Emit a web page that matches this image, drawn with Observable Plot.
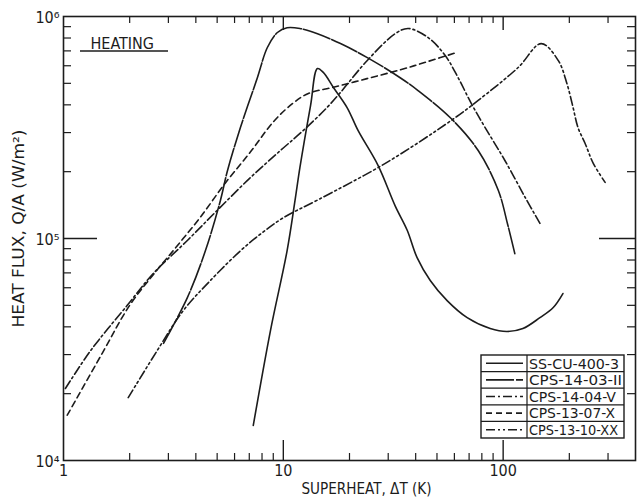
<!DOCTYPE html>
<html><head><meta charset="utf-8">
<script src="https://cdn.jsdelivr.net/npm/d3@7"></script>
<script src="https://cdn.jsdelivr.net/npm/@observablehq/plot@0.6"></script>
<style>
html,body{margin:0;padding:0;background:#fff;}
#chart{position:relative;width:637px;height:502px;overflow:hidden;}
</style></head><body><div id="chart"></div>
<script>
// ---- data ----
const seriesNames = ["SS-CU-400-3", "CPS-14-03-II", "CPS-14-04-V", "CPS-13-07-X", "CPS-13-10-XX"];
const seriesDash  = ["none", "28,2", "9,3,2,3", "6,4", "9,3,2,3,2,3"];

const ssCuX = [7.3, 8.74, 10.4, 11.3, 11.9, 13.3, 14.3, 15.2, 16.9, 19.5, 21.9, 27, 32.3, 36.6, 40.6, 46.6, 55.6, 68.6, 87.3, 104, 123, 147, 169, 187];
const ssCuY = [1.44e4, 3.85e4, 8.8e4, 1.48e5, 2.09e5, 3.97e5, 5.83e5, 5.6e5, 4.79e5, 3.89e5, 3.06e5, 2.13e5, 1.4e5, 1.09e5, 8.2e4, 6.47e4, 5.25e4, 4.4e4, 3.93e4, 3.81e4, 3.93e4, 4.4e4, 4.89e4, 5.65e4];

const cps1403X = [2.85, 3.66, 4.42, 5.17, 5.57, 6.38, 7.62, 8.46, 9.4, 10.4, 11.9, 14.3, 18.2, 24.1, 34, 41, 58, 77, 95, 105, 113];
const cps1403Y = [3.37e4, 5.42e4, 8.8e4, 1.48e5, 2.02e5, 3.16e5, 5.3e5, 7.25e5, 8.47e5, 8.9e5, 8.83e5, 8.37e5, 7.55e5, 6.53e5, 5.3e5, 4.64e5, 3.47e5, 2.49e5, 1.65e5, 1.15e5, 8.55e4];

const cps1404X = [1.02, 1.33, 1.95, 2.56, 3.66, 5.01, 7.08, 9.7, 12.3, 15.8, 18.2, 24.1, 32.3, 37, 45.6, 54.5, 62.4, 71.6, 82.8, 102, 126, 147];
const cps1404Y = [2.11e4, 3.13e4, 5.0e4, 6.95e4, 9.8e4, 1.34e5, 1.88e5, 2.49e5, 3.06e5, 3.89e5, 4.55e5, 6.34e5, 8.37e5, 8.83e5, 8.03e5, 6.67e5, 5.3e5, 4.06e5, 3.16e5, 2.24e5, 1.53e5, 1.17e5];

const cps1307X = [1.04, 1.5, 2.0, 2.6, 3.3, 4.2, 5.45, 7.08, 9.0, 11.0, 13.0, 16.9, 24, 34, 45, 62];
const cps1307Y = [1.6e4, 3.04e4, 5.0e4, 7.0e4, 9.3e4, 1.25e5, 1.78e5, 2.45e5, 3.35e5, 4.05e5, 4.5e5, 4.8e5, 5.25e5, 5.75e5, 6.25e5, 6.9e5];

const cps1310X = [1.97, 2.67, 3.51, 4.66, 6.38, 8.0, 10, 14.5, 29.1, 58, 77, 117, 149, 178, 195, 208, 219, 236, 257, 291];
const cps1310Y = [1.92e4, 3.13e4, 4.74e4, 6.47e4, 8.8e4, 1.06e5, 1.24e5, 1.5e5, 2.18e5, 3.4e5, 4.19e5, 5.89e5, 7.55e5, 6.34e5, 4.99e5, 3.89e5, 3.16e5, 2.68e5, 2.18e5, 1.79e5];

const xTickValues = [1, 10, 100];
const xTickLabels = ["1", "10", "100"];
const yTickValues = [1e4, 1e5, 1e6];
const yTickLabels = ["10\u2074", "10\u2075", "10\u2076"];
const xMinorTicks = [2, 3, 4, 5, 6, 7, 8, 9, 20, 30, 40, 50, 60, 70, 80, 90, 200, 300];
const yMinorTicks = [2e4, 3e4, 4e4, 5e4, 6e4, 7e4, 8e4, 9e4, 2e5, 3e5, 4e5, 5e5, 6e5, 7e5, 8e5, 9e5];
const xMajorInner = [10, 100];
const yMajorInner = [1e5];
const xLabel = "SUPERHEAT, \u0394T (K)";
const yLabel = "HEAT FLUX, Q/A (W/m\u00B2)";
const noteLabel = "HEATING";

// ---- layout ----
const W = 637, H = 502, mL = 63, mR = 2, mT = 16, mB = 42;
const fw = W - mL - mR, fh = H - mT - mB;
const ink = "#1c1c1c";
const font = "'Liberation Sans Narrow', 'DejaVu Sans Condensed', 'Liberation Sans', sans-serif";

const xs = [ssCuX, cps1403X, cps1404X, cps1307X, cps1310X];
const ys = [ssCuY, cps1403Y, cps1404Y, cps1307Y, cps1310Y];
const series = seriesNames.map((name, k) => xs[k].map((x, i) => ({name, x, y: ys[k][i]})));

const lineMarks = series.map((data, k) => Plot.line(data, {
  x: "x", y: "y", stroke: ink, strokeWidth: 1.6,
  strokeDasharray: seriesDash[k] === "none" ? null : seriesDash[k],
  curve: "catmull-rom"
}));

const svg = Plot.plot({
  width: W, height: H,
  marginLeft: mL, marginRight: mR, marginTop: mT, marginBottom: mB,
  style: {fontFamily: font, background: "#fff", color: ink},
  x: {type: "log", domain: [1, 400], axis: null},
  y: {type: "log", domain: [1e4, 1e6], axis: null},
  marks: [
    // inward ticks
    Plot.tickX(xMinorTicks, {stroke: ink, strokeWidth: 1.2, insetTop: fh - 7}),
    Plot.tickX(xMinorTicks, {stroke: ink, strokeWidth: 1.2, insetBottom: fh - 7}),
    Plot.tickX(xMajorInner, {stroke: ink, strokeWidth: 1.4, insetTop: fh - 20}),
    Plot.tickX(xMajorInner, {stroke: ink, strokeWidth: 1.4, insetBottom: fh - 14}),
    Plot.tickY(yMinorTicks, {stroke: ink, strokeWidth: 1.2, insetRight: fw - 8}),
    Plot.tickY(yMinorTicks, {stroke: ink, strokeWidth: 1.2, insetLeft: fw - 8}),
    Plot.tickY(yMajorInner, {stroke: ink, strokeWidth: 1.5, insetRight: fw - 34}),
    Plot.tickY(yMajorInner, {stroke: ink, strokeWidth: 1.5, insetLeft: fw - 36}),
    Plot.frame({stroke: ink, strokeWidth: 1.6}),
    ...lineMarks,
    // tick labels
    Plot.text(xTickValues, {x: d => d, text: (d, i) => xTickLabels[i], frameAnchor: "bottom", dy: 15, fontSize: 16, fill: ink}),
    Plot.text(yTickValues, {y: d => d, text: (d, i) => yTickLabels[i], frameAnchor: "left", textAnchor: "end", dx: -4, dy: 1, fontSize: 16, fill: ink}),
    // axis titles
    Plot.text([xLabel], {frameAnchor: "bottom", textAnchor: "middle", dx: 17, dy: 33, fontSize: 16, fill: ink}),
    Plot.text([yLabel], {frameAnchor: "left", textAnchor: "middle", dx: -45, dy: -10, rotate: -90, fontSize: 16, fill: ink}),
    Plot.text([noteLabel], {frameAnchor: "top-left", textAnchor: "start", dx: 27, dy: 21, fontSize: 16, fill: ink})
  ]
});
document.getElementById("chart").appendChild(svg);

const root = d3.select(svg);
// stretch the titles to the reference's lettering width
root.selectAll("text").each(function () {
  const t = this.textContent;
  if (t === yLabel) d3.select(this).attr("textLength", 198).attr("lengthAdjust", "spacingAndGlyphs");
  if (t === xLabel) d3.select(this).attr("textLength", 130).attr("lengthAdjust", "spacingAndGlyphs");
});

// underline of the HEATING note
root.append("line").attr("x1", mL + 17).attr("x2", mL + 105).attr("y1", mT + 35).attr("y2", mT + 35)
  .attr("stroke", ink).attr("stroke-width", 1.5);

// legend box (bottom-right, inside the frame)
const lg = root.append("g").attr("transform", `translate(${W - mR - 154},${H - mB - 105})`);
const rowH = 16.6, boxW = 143, sampleW = 46;
const textLens = [90, 93, 87, 86, 89];
lg.append("rect").attr("width", boxW).attr("height", rowH * seriesNames.length)
  .attr("fill", "#fff").attr("stroke", ink).attr("stroke-width", 1.4);
lg.append("line").attr("x1", sampleW).attr("x2", sampleW).attr("y1", 0).attr("y2", rowH * seriesNames.length)
  .attr("stroke", ink).attr("stroke-width", 1.2);
seriesNames.forEach((name, i) => {
  if (i > 0) lg.append("line").attr("x1", 0).attr("x2", boxW).attr("y1", i * rowH).attr("y2", i * rowH)
    .attr("stroke", ink).attr("stroke-width", 1.2);
  lg.append("line").attr("x1", 5).attr("x2", 42).attr("y1", i * rowH + rowH / 2).attr("y2", i * rowH + rowH / 2)
    .attr("stroke", ink).attr("stroke-width", 1.6)
    .attr("stroke-dasharray", seriesDash[i] === "none" ? null : seriesDash[i]);
  lg.append("text").attr("x", sampleW + 2).attr("y", i * rowH + rowH / 2).attr("dy", "0.36em")
    .attr("text-anchor", "start")
    .attr("font-size", 14.5).attr("fill", ink).attr("font-family", font)
    .attr("textLength", textLens[i]).attr("lengthAdjust", "spacingAndGlyphs")
    .text(name);
});
</script>
</body></html>
